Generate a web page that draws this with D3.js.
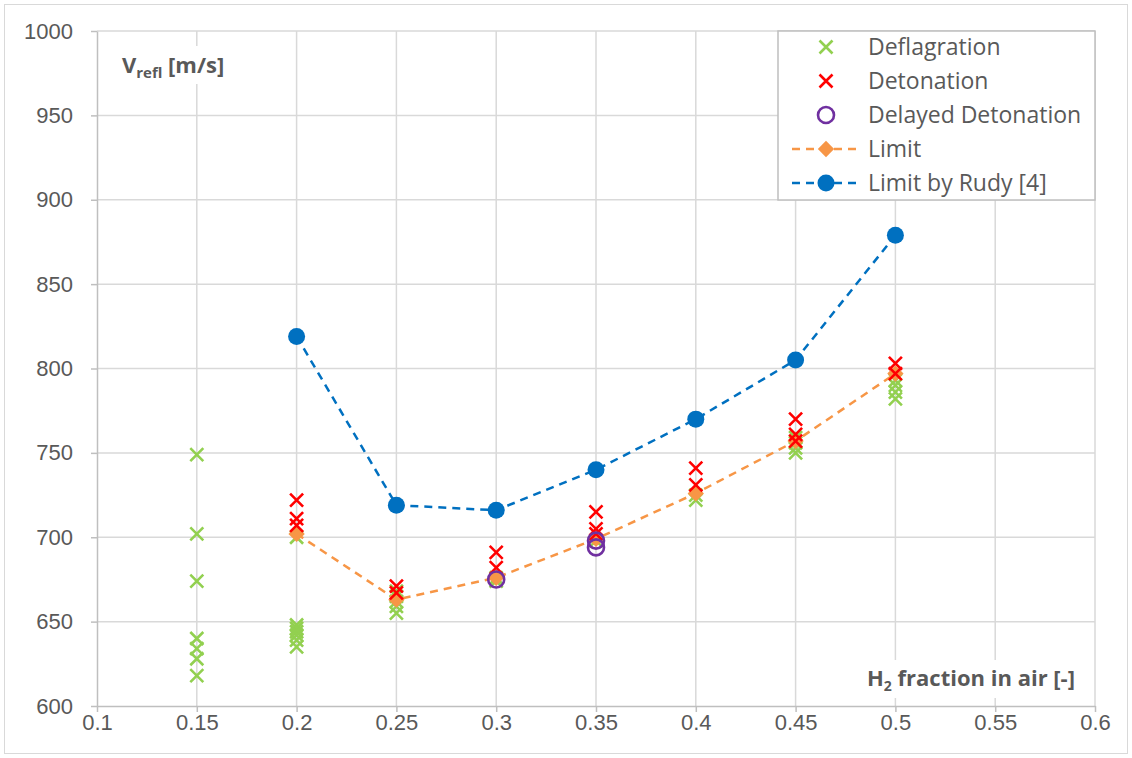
<!DOCTYPE html>
<meta charset="utf-8">
<style>
body { margin: 0; background: #fff; }
svg { font-family: "Open Sans", "Noto Sans", sans-serif; }
.tick text { font-size: 22px; fill: #595959; }
.grid line { stroke: #d9d9d9; stroke-width: 1.5; }
.axis path, .axis line { stroke: #bfbfbf; stroke-width: 1.5; }
.leg text { font-size: 23px; fill: #595959; }
</style>
<body>
<div id="chart"></div>
<script src="https://d3js.org/d3.v7.min.js"></script>
<script>
// x positions (H2 fraction) and measured values
var deflX = [0.15,0.15,0.15,0.15,0.15,0.15,0.15,
             0.2,0.2,0.2,0.2,0.2,0.2,0.2,
             0.25,0.25,0.25,0.25,0.25,
             0.3,0.3,
             0.35,
             0.4,0.4,
             0.45,0.45,0.45,0.45,
             0.5,0.5,0.5,0.5];
var deflY = [749,702,674,640,634,628,618,
             700,648,646,644,642,639,635,
             668,665,662,659,655,
             676,674,
             698,
             725,722,
             759,756,753,750,
             793,790,786,782];
var detX = [0.2,0.2,0.2, 0.25,0.25, 0.3,0.3, 0.35,0.35,0.35, 0.4,0.4, 0.45,0.45,0.45, 0.5,0.5];
var detY = [722,711,707, 671,667, 691,682, 715,705,702, 741,731, 770,761,757, 803,797];
var delX = [0.3, 0.35, 0.35];
var delY = [675, 694, 698];
var limitX = [0.2, 0.25, 0.3, 0.35, 0.4, 0.45, 0.5];
var limitY = [702, 663, 676, 699, 726, 757, 797];
var rudyX = [0.2, 0.25, 0.3, 0.35, 0.4, 0.45, 0.5];
var rudyY = [819, 719, 716, 740, 770, 805, 879];
var xTicks = [0.1,0.15,0.2,0.25,0.3,0.35,0.4,0.45,0.5,0.55,0.6];
var yTicks = [600,650,700,750,800,850,900,950,1000];
var legendNames = ["Deflagration", "Detonation", "Delayed Detonation", "Limit", "Limit by Rudy [4]"];

var W = 1132, H = 758;
var margin = {left: 97, right: 37, top: 31, bottom: 52};
var svg = d3.select("#chart").append("svg").attr("width", W).attr("height", H);
svg.append("rect").attr("x", 4.5).attr("y", 4.5).attr("width", W - 9).attr("height", H - 9)
  .attr("fill", "#fff").attr("stroke", "#d9d9d9");

var x = d3.scaleLinear().domain([0.1, 0.6]).range([margin.left, W - margin.right]);
var y = d3.scaleLinear().domain([600, 1000]).range([H - margin.bottom, margin.top]);

var g = svg.append("g");
// grid
g.append("g").attr("class", "grid").selectAll("line").data(yTicks.slice(1)).enter().append("line")
  .attr("x1", x(0.1)).attr("x2", x(0.6)).attr("y1", d => y(d)).attr("y2", d => y(d));
g.append("g").attr("class", "grid").selectAll("line").data(xTicks.slice(1)).enter().append("line")
  .attr("y1", y(600)).attr("y2", y(1000)).attr("x1", d => x(d)).attr("x2", d => x(d));

var xAxis = g.append("g").attr("class", "axis")
  .attr("transform", "translate(0," + y(600) + ")")
  .call(d3.axisBottom(x).tickValues(xTicks).tickFormat(d3.format("")).tickSize(6).tickSizeOuter(0));
xAxis.selectAll("text").attr("y", 8).attr("dy", "0.71em");
var yAxis = g.append("g").attr("class", "axis")
  .attr("transform", "translate(" + x(0.1) + ",0)")
  .call(d3.axisLeft(y).tickValues(yTicks).tickFormat(d3.format("d")).tickSize(6).tickSizeOuter(0));
yAxis.selectAll("text").attr("x", -24);
g.selectAll(".axis .domain").attr("stroke", "#bfbfbf");

// axis titles with white boxes
var yt = svg.append("g").attr("transform", "translate(112,46)");
yt.append("rect").attr("width", 132).attr("height", 38).attr("fill", "#fff");
var ytx = yt.append("text").attr("x", 10).attr("y", 27).attr("font-size", 22).attr("font-weight", "bold").attr("fill", "#595959");
ytx.append("tspan").text("V");
ytx.append("tspan").attr("font-size", 15).attr("dy", 5).text("refl");
ytx.append("tspan").attr("dy", -5).text(" [m/s]");

var xt = svg.append("g").attr("transform", "translate(856,660)");
xt.append("rect").attr("width", 236).attr("height", 38).attr("fill", "#fff");
var xtx = xt.append("text").attr("x", 11).attr("y", 26).attr("font-size", 22).attr("font-weight", "bold").attr("fill", "#595959");
xtx.append("tspan").text("H");
xtx.append("tspan").attr("font-size", 14).attr("dy", 5).text("2");
xtx.append("tspan").attr("dy", -5).text(" fraction in air [-]");

function cross(sel, color) {
  sel.append("path").attr("d", "M-6.5,-6.5L6.5,6.5M-6.5,6.5L6.5,-6.5")
    .attr("stroke", color).attr("stroke-width", 2.6).attr("fill", "none");
}

// lines
var line = d3.line().x(d => x(d[0])).y(d => y(d[1]));
var limitPts = d3.zip(limitX, limitY), rudyPts = d3.zip(rudyX, rudyY);

// deflagration
deflX.forEach(function(d, i) {
  cross(g.append("g").attr("transform", "translate(" + x(d) + "," + y(deflY[i]) + ")"), "#92d050");
});
g.append("path").datum(limitPts).attr("d", line).attr("fill", "none")
  .attr("stroke", "#f79646").attr("stroke-width", 2.5).attr("stroke-dasharray", "8,6");
g.selectAll(".lim").data(limitPts).enter().append("path")
  .attr("transform", d => "translate(" + x(d[0]) + "," + y(d[1]) + ")")
  .attr("d", d3.symbol(d3.symbolDiamond2, 170)).attr("fill", "#f79646");
detX.forEach(function(d, i) {
  cross(g.append("g").attr("transform", "translate(" + x(d) + "," + y(detY[i]) + ")"), "#ff0000");
});
delX.forEach(function(d, i) {
  g.append("circle").attr("cx", x(d)).attr("cy", y(delY[i])).attr("r", 8)
    .attr("fill", "none").attr("stroke", "#7030a0").attr("stroke-width", 2.6);
});
g.append("path").datum(rudyPts).attr("d", line).attr("fill", "none")
  .attr("stroke", "#0070c0").attr("stroke-width", 2.5).attr("stroke-dasharray", "8,6");
g.selectAll(".rudy").data(rudyPts).enter().append("circle")
  .attr("cx", d => x(d[0])).attr("cy", d => y(d[1])).attr("r", 8.5).attr("fill", "#0070c0");

// legend
var leg = svg.append("g").attr("class", "leg").attr("transform", "translate(778,31)");
leg.append("rect").attr("width", 317).attr("height", 169).attr("fill", "#fff").attr("stroke", "#bfbfbf").attr("stroke-width", 1.5);
legendNames.forEach(function(name, i) {
  var row = leg.append("g").attr("transform", "translate(0," + (16 + i * 34) + ")");
  var mx = 48;
  if (i === 0) cross(row.append("g").attr("transform", "translate(" + mx + ",0)"), "#92d050");
  if (i === 1) cross(row.append("g").attr("transform", "translate(" + mx + ",0)"), "#ff0000");
  if (i === 2) row.append("circle").attr("cx", mx).attr("r", 8).attr("fill", "none").attr("stroke", "#7030a0").attr("stroke-width", 2.6);
  if (i >= 3) {
    var c = i === 3 ? "#f79646" : "#0070c0";
    row.append("line").attr("x1", 14).attr("x2", 82).attr("stroke", c).attr("stroke-width", 2.5).attr("stroke-dasharray", "8,6");
    if (i === 3) row.append("path").attr("transform", "translate(" + mx + ",0)").attr("d", d3.symbol(d3.symbolDiamond2, 170)).attr("fill", c);
    else row.append("circle").attr("cx", mx).attr("r", 8.5).attr("fill", c);
  }
  row.append("text").attr("x", 90).attr("y", 8).text(name);
});
</script>
</body>
